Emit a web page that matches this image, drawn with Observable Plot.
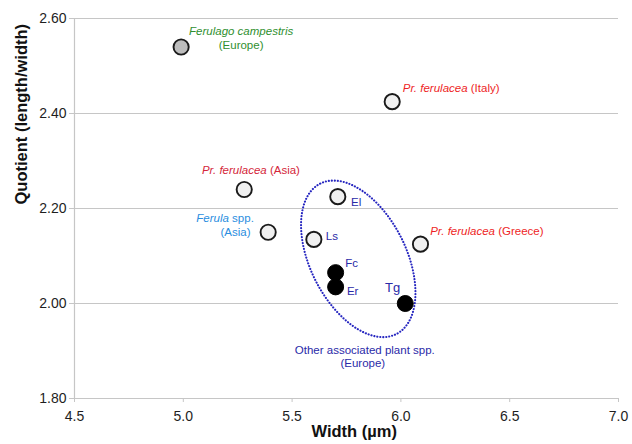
<!DOCTYPE html>
<html><head><meta charset="utf-8">
<script src="https://cdn.jsdelivr.net/npm/d3@7"></script>
<script src="https://cdn.jsdelivr.net/npm/@observablehq/plot@0.6"></script>
<style>
body{margin:0;background:#fff;}
#chart svg{display:block;}
</style></head><body><div id="chart"></div>
<script>
// ---- data ----
const taxa = ["Ferulago campestris (Europe)","Pr. ferulacea (Italy)","Pr. ferulacea (Asia)","Ferula spp. (Asia)","El","Ls","Pr. ferulacea (Greece)","Fc","Er","Tg"];
const widths = [4.99, 5.96, 5.28, 5.39, 5.71, 5.60, 6.09, 5.70, 5.70, 6.02];
const quotients = [2.54, 2.425, 2.24, 2.15, 2.225, 2.135, 2.125, 2.065, 2.035, 2.0];
const markerType = ["grey","open","open","open","open","open","open","filled","filled","filled"];
const xTicks = [4.5, 5.0, 5.5, 6.0, 6.5, 7.0];
const yTicks = [1.8, 2.0, 2.2, 2.4, 2.6];
const groupLabel = ["Other associated plant spp.", "(Europe)"];
const groupLabelAt = {x: 5.834, y: 1.902};
// ellipse around the "other associated plants" group: centre in data units
const ellipseCentre = {x: 5.804, y: 2.094};

const points = taxa.map((t, i) => ({taxon: t, w: widths[i], q: quotients[i], type: markerType[i]}));

// ---- layout ----
const W = 632, H = 444, mL = 74, mR = 14, mT = 18, mB = 46;
const xDomain = [4.5, 7.0], yDomain = [1.8, 2.6];
const kx = (xDomain[1] - xDomain[0]) / (W - mL - mR);
const ky = (yDomain[1] - yDomain[0]) / (H - mT - mB);

// ellipse outline (pixel semi-axes, tilt) converted to data units
const ell = {a: 84.3, b: 47.9, tilt: 26.8 * Math.PI / 180};
const ellipsePts = d3.range(0, 241).map(k => {
  const t = k / 240 * 2 * Math.PI;
  const s = Math.sin(ell.tilt), c = Math.cos(ell.tilt);
  const dxp = ell.a * Math.cos(t) * (-s) + ell.b * Math.sin(t) * c;
  const dyp = ell.a * Math.cos(t) * (-c) + ell.b * Math.sin(t) * (-s);
  return {x: ellipseCentre.x + dxp * kx, y: ellipseCentre.y - dyp * ky};
});

const GREEN = "#2f8f2f", RED = "#ee1f26", RED2 = "#d4263a", CYAN = "#2a8ee0", NAVY = "#2a2aa8";
// point labels: index, text (_italic_), offsets, anchor, colour, size
const labelSpecs = [
  {i: 0, text: "_Ferulago campestris_", dx: 60, dy: -15.7, anchor: "middle", color: GREEN},
  {i: 0, text: "(Europe)", dx: 60, dy: -1.7, anchor: "middle", color: GREEN},
  {i: 1, text: "_Pr. ferulacea_ (Italy)", dx: 10.6, dy: -13, anchor: "start", color: RED},
  {i: 2, text: "_Pr. ferulacea_ (Asia)", dx: -42.3, dy: -19.3, anchor: "start", color: RED2},
  {i: 3, text: "_Ferula_ spp.", dx: -14.3, dy: -14, anchor: "end", color: CYAN},
  {i: 3, text: "(Asia)", dx: -17.6, dy: 0, anchor: "end", color: CYAN},
  {i: 4, text: "El", dx: 13.3, dy: 5.3, anchor: "start", color: NAVY},
  {i: 5, text: "Ls", dx: 12, dy: -3, anchor: "start", color: NAVY},
  {i: 6, text: "_Pr. ferulacea_ (Greece)", dx: 9.7, dy: -13.3, anchor: "start", color: RED},
  {i: 7, text: "Fc", dx: 9.6, dy: -9, anchor: "start", color: NAVY},
  {i: 8, text: "Er", dx: 11.3, dy: 4, anchor: "start", color: NAVY},
  {i: 9, text: "Tg", dx: -20.3, dy: -15.7, anchor: "start", color: NAVY, size: 13}
];

const labelMarks = labelSpecs.map(s => Plot.text([points[s.i]], {
  x: "w", y: "q", text: () => s.text, dx: s.dx, dy: s.dy,
  textAnchor: s.anchor, fill: s.color, fontSize: s.size || 11.5
}));

const GRID = "#c6c6c6";
const chart = Plot.plot({
  width: W, height: H,
  marginLeft: mL, marginRight: mR, marginTop: mT, marginBottom: mB,
  style: {fontFamily: "'Liberation Sans', Arial, Helvetica, sans-serif", fontSize: "11.5px", background: "#fff", color: "#1e1e1e"},
  x: {domain: xDomain},
  y: {domain: yDomain},
  marks: [
    Plot.gridY({ticks: yTicks.filter(d => d > 1.8), stroke: GRID, strokeOpacity: 1, strokeWidth: 1.2}),
    Plot.ruleY([1.8], {stroke: GRID, strokeWidth: 1.2}),
    Plot.ruleX([4.5], {stroke: GRID, strokeWidth: 1.2}),
    Plot.axisY({ticks: yTicks, tickFormat: d => d.toFixed(2), tickSize: 5, tickPadding: 3, fontSize: 14, stroke: GRID, label: null}),
    Plot.axisX({ticks: xTicks, tickFormat: d => d.toFixed(1), tickSize: 4, tickPadding: 9, fontSize: 14, stroke: GRID, label: null}),
    Plot.line(ellipsePts, {x: "x", y: "y", stroke: "#2626c0", strokeWidth: 2.1, strokeDasharray: "0.1,2.9", strokeLinecap: "round"}),
    Plot.dot(points.filter(d => d.type === "grey"), {x: "w", y: "q", r: 7.6, fill: "#bdbdbd", stroke: "#1a1a1a", strokeWidth: 1.9}),
    Plot.dot(points.filter(d => d.type === "open"), {x: "w", y: "q", r: 7.6, fill: "#f0f0f0", stroke: "#1a1a1a", strokeWidth: 1.9}),
    Plot.dot(points.filter(d => d.type === "filled"), {x: "w", y: "q", r: 8, fill: "#000", stroke: "#000", strokeWidth: 1}),
    ...labelMarks,
    Plot.text([groupLabelAt], {x: "x", y: "y", text: () => groupLabel[0], fill: NAVY, fontSize: 11.5}),
    Plot.text([groupLabelAt], {x: "x", y: "y", text: () => groupLabel[1], dy: 13, dx: -2, fill: NAVY, fontSize: 11.5}),
    Plot.text(["Width (µm)"], {frameAnchor: "bottom", dx: 7.7, dy: 38.7, fontSize: 16.5, fontWeight: "bold", fill: "#111"}),
    Plot.text(["Quotient (length/width)"], {frameAnchor: "left", rotate: -90, dx: -53, dy: -4, fontSize: 16.5, fontWeight: "bold", fill: "#111"})
  ]
});

// italic runs marked with _..._
chart.querySelectorAll("text").forEach(t => {
  const s = t.textContent;
  if (!s.includes("_")) return;
  t.textContent = "";
  s.split(/(_[^_]+_)/).filter(p => p.length).forEach(p => {
    const ts = document.createElementNS("http://www.w3.org/2000/svg", "tspan");
    if (p.startsWith("_")) { ts.setAttribute("font-style", "italic"); ts.textContent = p.slice(1, -1); }
    else ts.textContent = p;
    t.appendChild(ts);
  });
});
document.getElementById("chart").appendChild(chart);
</script></body></html>
